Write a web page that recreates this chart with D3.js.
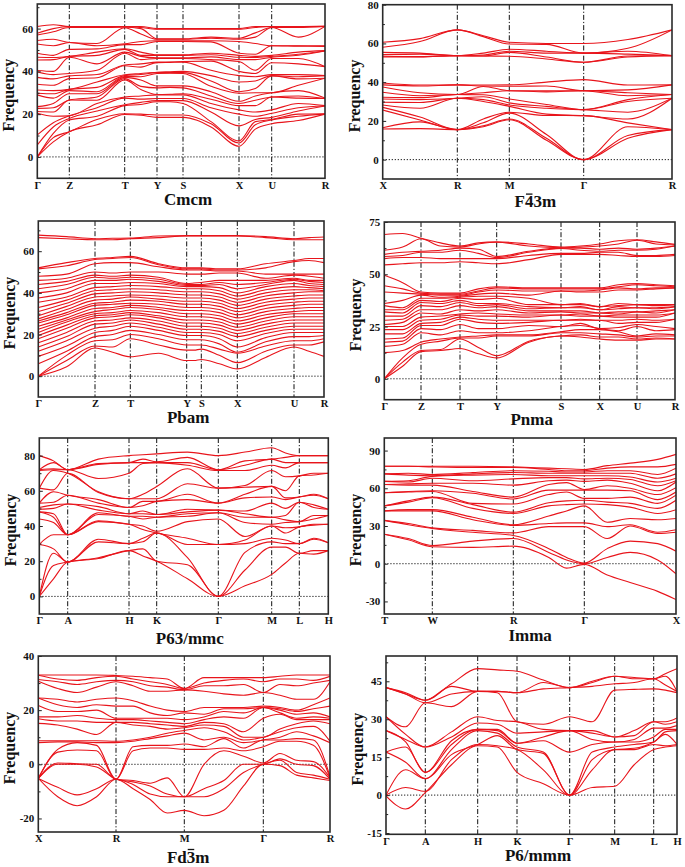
<!DOCTYPE html>
<html><head><meta charset="utf-8">
<script src="https://cdn.jsdelivr.net/npm/d3@7/dist/d3.min.js"></script>
<style>
body{margin:0;background:#fff;}
svg{display:block;}
text{font-family:"Liberation Serif","Times New Roman",serif;font-weight:bold;fill:#111;}
</style>
</head><body>
<svg id="chart" width="685" height="867"></svg>
<script>
// ---------------- DATA ----------------
// Panel 1: Cmcm
const cmcmTitle = "Cmcm";
const cmcmLabels = ["Γ","Z","T","Y","S","X","U","R"];
const cmcmKDist = [0,32,87.4,119.7,145.7,201.7,234.4,287.7];
const cmcmT = [0,0.5,1,1.5,2,2.5,3,3.5,4,4.5,5,5.5,6,6.5,7];
const cmcmYTicks = [0,20,40,60];
const cmcmYMinor = [10,30,50,70];
const cmcmYDomain = [-10,71.5];
const cmcmCols = [
 [0,0,0,5.6,10.3,20.4,21.2,22.7,23.5,29,29.8,31.3,34,37.2,39.7,40.4,45.3,46.6,48.5,52.8,54.4,57,57.8,61],
 [7,9,11,14,16,19,21,23,25,27.5,29.5,31,33.5,36.5,38.5,40,45.5,46.5,47.5,52,55,58.5,60,61.8],
 [11.8,11.8,17.3,18,19.2,19.2,26.6,26.6,29.5,31,31.6,31.6,36.6,37.9,39,46.6,47,47,50.3,53.5,53.5,60.5,61,61],
 [15,17.5,19,21.5,23,25,26.5,28,29.5,30.5,32.5,35,37,38.5,40.5,43.5,47.5,49,50.5,52,53,60.5,61,61],
 [19.8,20.2,24,24.4,27.5,28,36,36.6,37.2,37.6,38,38.4,42.6,43,48.5,49,50.3,50.6,52.5,52.9,60.4,60.6,61,61],
 [19.5,20,24.5,25.5,27,28.5,31.5,33,36,37.5,38.5,39,42,43.5,45.5,47,47.5,49,52.5,54,57.5,60,60.5,61],
 [18.5,19.6,25.8,26.3,27.3,29,29.2,32.3,33.2,39,39.4,39.6,44.1,44.3,46,46.3,47.5,47.7,54,54.3,55,55.2,59.7,60],
 [18.5,19.6,25.8,26.3,27.3,29,29.3,32.5,33.2,39.2,39.4,39.8,44.2,44.4,46,46.3,47.5,47.7,54,54.3,55,55.2,59.7,60],
 [18.5,19.6,25,26.3,27.3,29,29.5,32.3,33.2,39,39.4,40,44.3,44.6,46,46.3,47.5,47.7,54,54.3,55,55.2,59.7,60],
 [14,15.5,16.5,21,23,25,27,28.5,30.5,33,35.5,38,40.5,44.8,45.5,46.8,47.8,48.5,53.8,54.3,55.5,56,59.7,60],
 [5,6.5,7.5,14.5,20,22,24,25,26,29.8,30.5,35,38,40,44.6,45.5,46.6,47.5,48.5,54,55,55.5,59.7,60],
 [13,15,16.5,17.5,19,21,24,26.5,28.5,30,32,35.5,37.5,39,40.5,45.5,46.5,47,48,53,56,58,60.5,61],
 [15.5,17.3,17.5,18.5,20.4,22,28,28,30,30,37.9,38,38.5,44,46,46.6,47,47.5,52,52,60.5,60.5,61,61],
 [17,19,20,21.5,23,25,27.5,28.5,31,33.5,36.5,37.5,38.5,43.5,46,47.5,48,49,51.8,52,56,60.5,61,61],
 [20,20,20.2,23.8,23.8,24,27.3,27.3,27.5,36.8,36.8,38,38,42.2,42.2,49.5,49.5,49.7,51.7,51.9,61,61,61,61.2]
];

// Panel 2: F-43m
const f43mTitle = "F43m";
const f43mLabels = ["X","R","M","Γ","R"];
const f43mKDist = [0,74.6,126.6,201,289.3];
const f43mT = [0,0.5,1,1.5,2,2.5,3,3.5,4];
const f43mYTicks = [0,20,40,60,80];
const f43mYMinor = [10,30,50,70];
const f43mYDomain = [-10,80];
const f43mCols = [
 [15.8,16.5,25.6,27,28.2,29.6,31.3,32.2,34.8,37.5,38.6,39.6,53,53.4,54.2,55.4,58,60.6],
 [16,19.5,20.5,22,26.5,29.5,31,32,33,34.5,38,38.5,53,53.2,54.5,55,61,62.5],
 [15.5,15.5,15.5,15.5,31.7,31.7,31.7,33.6,33.6,33.6,38.6,38.6,53.7,53.7,53.7,53.7,67,67],
 [17,17.5,19,21,30,31,32.5,33.5,34.5,37.8,38,38.5,53.5,53.5,54,55,63.5,64],
 [20.6,21,24,24.5,27.5,28.2,29.3,31.3,35.6,35.6,37.9,38.6,53.4,55.4,56,57,59.7,60.6],
 [10,11,13,22.8,23.5,26.5,27.5,28.5,35,35.5,38,40,52,53,55,56,59.5,60],
 [0,0,0,22.7,22.7,25.8,25.8,25.8,35.6,35.6,35.6,41.3,50.3,50.3,55,55,55,60],
 [11,12.5,17,19,21,24.5,30,31,33,34.5,36,38.5,53,53.5,54.5,56,57.5,62],
 [15.5,15.5,15.5,15.5,31.7,31.7,31.7,33.6,33.6,33.6,38.6,38.6,53.7,53.7,53.7,53.7,67,67]
];

// Panel 3: Pbam
const pbamTitle = "Pbam";
const pbamLabels = ["Γ","Z","T","Y","S","X","U","R"];
const pbamKDist = [0,56.7,92,148.4,163,199,255.7,285.7];
const pbamT = [0,0.5,1,1.5,2,2.5,3,3.5,4,4.5,5,5.5,6,6.5,7];
const pbamYTicks = [0,20,40,60];
const pbamYMinor = [10,30,50,70];
const pbamYDomain = [-10,74.5];
const pbamCols = [
 [0,0,0,6,9.5,12,14,16,18,19.5,21,22.5,24,25.5,26.5,27.5,29,31,33,35.5,37.5,40,42,44,46,48,51.5,52,66.5,67.7],
 [4.5,7.5,10,12,14.5,17,19,21,23,24.5,26,27,28,29.5,30.5,32,33.5,35,36.5,38,40,42,44,45.5,47,49,53,54.5,66,67],
 [13.5,14.5,17,19,21,23,25,26.5,28,29,30,31,32.5,34,35,36.5,38,39.5,41,42.5,44.5,46,47.5,48.5,50,54,56,56.5,65.5,66],
 [11.5,14,17.5,20,22,24,25.5,27,28.5,29.5,30.5,32,33,34.5,35.5,37,38.5,40,41.5,43,44.5,46,47,48,49.5,54.5,56.5,57,65.5,66.2],
 [9.3,18,20,22,24,25.5,27,28,29.5,30.5,31.5,33,34,35,36.5,38,39,40.5,42,43.5,45,46.5,47.5,48.5,50,54.5,57,57.5,66,66.3],
 [11,15,18,20,22,23.5,25,26.5,28,29,30.5,32,33,34.5,36,37,38.5,40,41.5,43,44.5,45.5,46.5,47.5,50,52.5,53.5,54,66.5,67.3],
 [7.5,12.5,15,17.5,19.5,21,22.5,24,25.5,27,28.5,30,31.5,33,34.5,36,37.5,39,40.5,42,43,43.5,44,44.5,49,51,51.5,52,67.3,67.5],
 [7.5,12.5,15,17.5,19.5,21,22.5,24,25.5,27,28.5,30,31.5,33,34.5,36,37.5,39,40.5,42,43,43.5,44,44.7,49,51,51.5,52,67.3,67.5],
 [8,13,15,17.5,19.5,21,22.5,24,25.5,27,28.5,30,31.5,33,34.5,36,37.5,39,40.5,42,43,43.5,44,45,49,51,51.5,52,67.3,67.5],
 [6,10,13,15.5,18,20,21.5,23,24.5,26,27.5,29,30.5,32,33.5,35,36.5,38,39.5,41,42.5,44,45,46,49.5,50.5,51,51.5,67.3,67.5],
 [3.5,6.5,11,11.5,14,17,19,20.5,22,23.5,25,26.5,28,29.5,31,32.5,34,35.5,37,38.5,40,42,44,46,49.5,50.5,51,51.5,67.3,67.5],
 [9,12,14.5,16.5,18.5,20.5,22,23.5,25,26.5,28,29.5,31,32.5,34,35.5,37,38.5,40,41.5,43,44,45,46,47,49,52,54,66.5,67],
 [14,15,17,19,21,22.5,24,25.5,27,28.5,30,31,32.5,34,35.5,37,38.5,40,41.5,43,44.5,46,46.5,47,48.5,49,55,55.5,65.5,66],
 [12,15,17,19,21,22.5,24,25.5,27,28.5,30,31.5,33,34.5,36,37.5,39,40.5,41.5,42.5,43.5,44.5,45.5,46,48,49,55.5,56.5,65.5,66.5],
 [9.5,16.5,18,19.5,21,22.5,24,25.5,27,28.5,30,31.5,33,34.5,36,37.5,39,40.5,41,42,43,44,45,46,47,49,54.5,56.5,65.5,66.8]
];

// Panel 4: Pnma
const pnmaTitle = "Pnma";
const pnmaLabels = ["Γ","Z","T","Y","S","X","U","R"];
const pnmaKDist = [0,36.7,75.7,112.4,176.7,215.4,252.7,290.7];
const pnmaT = [0,0.5,1,1.5,2,2.5,3,3.5,4,4.5,5,5.5,6,6.5,7];
const pnmaYTicks = [0,25,50,75];
const pnmaYMinor = [12.5,37.5,62.5];
const pnmaYDomain = [-10,75];
const pnmaCols = [
 [0,0,0,12.5,15.5,17.5,19,21.5,23.5,25,26,28,30,32,33,35,36,41.5,44.5,49.5,54.5,57.5,58.5,59.5,61.5,69],
 [6,8,10,13.5,16.5,18,19.5,21.5,23.5,25,27,28.5,30,31.5,33,34,37.5,41,43,46,55,58,59,60.5,63,69.5],
 [13,13.5,16.5,17.5,22,24,25.5,26.5,28,29.5,31.5,33,35,36.5,37.5,38.5,40,40.5,41,41.5,55.5,58,60.5,61,67,67.2],
 [13.5,14,18,19,21,23.5,25.5,27,28.5,30,31,33,34.5,36,37,38.5,39,40,40.5,41,55.5,57.5,60.5,61.5,63.5,65],
 [14.5,19,19.5,20,23,26,28.5,29.5,30.5,31,33,35,36.5,37.5,38.5,39,39.5,40,40.5,41,56,57.5,61.5,62.5,63,63.5],
 [12,15,19.5,20.5,22,24,27,28.5,30,31.5,32.5,34,35,36,38,39.5,40.5,41.5,42,43,55.5,57.5,60,62,64.5,65],
 [10,11,20.5,21,22,24,26.5,28,30,31,33,34.5,35.5,36,38.5,39.5,41,42.5,43.5,44,55,57.5,58,58.5,65.3,65.5],
 [17.5,18,20.5,21,23,25.5,27,28,29.5,30.5,31.5,32.5,33.5,34.5,35.5,38.5,40,42,43,43.5,57,59,60.5,61,63.5,64.5],
 [20.5,20.5,22,22.5,25,25,28,28,30.5,30.5,32,32.5,34,34,35.5,35.5,42,42,43,43.5,59.5,60,62.3,62.5,62.7,63],
 [20,21,22,23.5,25.5,26.5,28,28.5,30,31,31.5,32.5,34,34.5,35.5,36,41.5,42,43,43.5,59.5,60,61.5,62.5,63,63.5],
 [19,20,21.5,23.5,24,24,28,28,30,30,31.5,31.5,33,33,34.5,34.5,41.5,42.5,43,43.5,59.5,60.5,61,62,63.5,64.5],
 [18.5,20,21,22.5,23,24.5,26.5,28,29.5,30.5,31,32,33.5,34.5,35,36,42.5,43.5,44,45,59,60.5,61.5,62.5,64.5,66],
 [18.5,19,20,20.5,25,26,27,28.5,29.5,30.5,32,32,34,34,35.5,35.5,42.5,43,45,45.5,58.5,59,61.5,62,66.3,66.5],
 [19,19.5,20.5,21.5,23,25,27,28,29.5,30.5,31.5,32.5,33.5,34,35,35.5,43,43.5,44.5,45,58.5,59,62,62.5,64.5,65.5],
 [19,19,20.5,21,23.5,24,28.5,28.5,31.5,31.5,33,33,34.5,34.5,35.5,35.5,43.5,43.5,44,44.5,59,59.5,63.5,63.5,64,64.3]
];

// Panel 5: P63/mmc
const p63Title = "P63/mmc";
const p63Labels = ["Γ","A","H","K","Γ","M","L","H"];
const p63KDist = [0,28.4,89.7,117.4,179,232.4,260,289];
const p63T = [0,0.5,1,1.5,2,2.5,3,3.5,4,4.5,5,5.5,6,6.5,7];
const p63YTicks = [0,20,40,60,80];
const p63YMinor = [10,30,50,70];
const p63YDomain = [-10,90];
const p63Cols = [
 [0,0,0,29.5,29.5,44,48,48,49.5,50.5,53,53,61.5,61.5,71.5,72,72,80],
 [10,17.5,24.5,27,35,42,45,47,50,52,53.5,59.5,60.5,71.5,72,72.5,76,77],
 [19.5,19.5,19.5,19.5,35,35,35,35,52.5,52.5,57.5,57.5,70,70,72,72,72,72],
 [21.5,22,31,32.5,42.5,43,46.5,47.5,49,51,53,55,59,59.5,67,75,75.5,78],
 [26,26,30,30,41,41,45.5,45.5,47,47,50.5,50.5,55.5,55.5,70,76,76,80],
 [23,27,31,33,38,40,44,45.5,47,48.5,51.5,54,55.5,58,75.5,76,78,80.5],
 [20,20,36,36,36,37,45,45,46.5,46.5,54,54,55.5,62.5,76,76,76.5,81],
 [10,18,22,29.5,33,42.5,45.5,47,48,49.5,55,58,64,72.5,74.5,76,79,82],
 [0,0,0,29.5,29.5,44,47.5,47.5,49,49,53,53,61.5,61.5,71.5,72,72,80],
 [6,15,25,30,32,34,42,45,47,48.5,56,58,62,63,71.5,74.5,77,82],
 [12.5,28,31,33,40,40,41,45,45,53,56.5,62.5,62.5,71.5,74.5,78,78,84.5],
 [19,28,30,32,36,39,42,43.5,46,50,55,56,60,68,73,76,79,81.5],
 [24.5,24.5,30,30,39.5,39.5,42.5,42.5,53.5,53.5,56.5,56.5,68.5,68.5,76,76,80,80],
 [24,26,32.5,33,40.5,41,44,46,50.5,52,57.5,58,69,70,76,76,80,80],
 [26,26,30.5,30.5,41,41,46,46,49.5,49.5,55.5,55.5,70,70,76,76,80,80]
];

// Panel 6: Imma
const immaTitle = "Imma";
const immaLabels = ["T","W","R","Γ","X"];
const immaKDist = [0,48,129,200,291.7];
const immaT = [0,0.5,1,1.5,2,2.5,2.75,3,3.25,3.5,3.8,4];
const immaYTicks = [-30,0,30,60,90];
const immaYMinor = [-15,15,45,75];
const immaYDomain = [-40,100];
const immaCols = [
 [23.5,23.5,34.5,34.5,42,42,46,46,56.5,56.5,63,63,65.5,65.5,71.5,71.5,77.5,77.5],
 [19,20,31,32,42,43,49,50,57,57.5,62.5,63.5,65,66,70.5,72,77.5,77.5],
 [13.5,14.5,28,28.5,42,43,52.5,53,57.5,58,62.5,64,68,69.5,70,71,77,77.5],
 [13,18,25,26.5,35,37,44,47,48,56,57.5,64,66,70.5,71.5,72.5,76.5,77.5],
 [14,20,22.5,24.5,30.5,31,40,41,47.5,51.5,53,62.5,67.5,71,72.5,74,76.5,77],
 [5,9,12,29.5,32,38,46,48.5,55,58.5,63,66,68.5,70,72,73.5,75,76],
 [-3.5,3,5,29.5,32.5,42,47,50,57,58.5,64.5,66.5,68.5,70,72,73,74,75.5],
 [-0.5,0,0.5,29.5,32.5,46,47.5,50.5,52,58.5,59,65.5,67.5,70,72,73,74,75],
 [-9,5,12,20,29.5,33,47,49,52,58.5,62,66.5,68,70,72,74,76,78],
 [-15,9,18,30,31,36,45,48,53,58,60,64,67,69,72,74,77,80],
 [-22,3,16,24,25,35,40,44,48,51,55,58,62,65,68,71,77,83],
 [-28.5,-8,10,25,27,36,43,50.5,54.5,57,60.5,65,66,68,71.5,76,79,87]
];

// Panel 7: Fd-3m
const fd3mTitle = "Fd3m";
const fd3mLabels = ["X","R","M","Γ","R"];
const fd3mKDist = [0,77.7,146,225,291.7];
const fd3mT = [0,0.25,0.5,0.75,1,1.25,1.5,1.75,2,2.25,2.5,2.75,3,3.25,3.5,3.75,4];
const fd3mYTicks = [-20,0,20,40];
const fd3mYMinor = [-10,10,30];
const fd3mYDomain = [-25,40];
const fd3mCols = [
 [-5.2,-5.2,-5.2,-5.2,-5.2,-5.2,8,8.7,15.1,16.8,17.5,21.7,24.5,24.5,30.7,31.3,32.9,33],
 [-12,-8.5,0,0.5,4.5,5.5,8.3,8.7,14.5,16,17.5,19.5,22,24,28,30.5,31.5,33],
 [-15.3,-11.3,0,0.2,5.3,8,8.3,8.7,13,16,18,19.5,21,23,26.5,29.5,31,33],
 [-12,-9,-1,0,5,7,8,8.7,11,15.5,17,20,22,24,28.5,30.5,32,33],
 [-5.5,-5.5,-5.5,-5.5,-5.5,-5.5,8,8.5,15.5,15.5,16.5,17,21.5,24.5,30.5,31,32.5,32.8],
 [-9,-7.5,-6.5,-6,5,6.5,8.5,9,14.5,15.5,16.5,17,21.5,23.5,29,30.5,31.5,32.5],
 [-13,-11,-8,-7,6,7,9.5,10,14,15,16,17,19,21.5,27,29,30.5,32],
 [-18,-12,-11,-5,6,7,10.5,11.5,13,14.5,15.5,17,18,20,27,28.5,29.5,31.5],
 [-17,-12,-12,-12,5.5,7.5,11.5,12.5,13.5,14,15,16.5,19,19.5,27.5,27.5,28,28],
 [-19,-12,-9,0,5.5,6.5,9,13.5,14.5,15.5,16.5,17.5,18.5,21,27,29,30,32],
 [-17,-9,-6,5,6,9.5,10,12,14,15,17.5,19.5,20.5,21,26,29,31,32],
 [-8,-3,0,3,5,6,8,9,10,12,17,19,20.5,21,25.5,29.5,31.5,32],
 [0,0,0,0.5,6.5,9,9,10,10,17,21,21,21,21.5,26.5,26.5,30.5,32],
 [-0.5,1.5,2,4,8.5,9,10,12,13,18.5,19,20,20.5,21,25.5,29.5,31.5,32.5],
 [-4,-3,0,1.5,8.5,9.5,12,13.5,15,16.5,17,18.5,19.5,20,24,29,31.5,33],
 [-5,-4,-0.5,1,7,9,10.5,14,16,16.5,17.5,19,20.5,22,24,30,31,33],
 [-6,-5.5,-5.5,-5,-5,-4.5,8,8.5,15,16.5,17,17.5,21.5,24.5,30.5,31,32.5,33]
];

// Panel 8: P6/mmm
const p6Title = "P6/mmm";
const p6Labels = ["Γ","A","H","K","Γ","M","L","H"];
const p6KDist = [0,39.3,91.7,131,183.7,228.7,267.7,291];
const p6T = [0,0.5,1,1.5,2,2.5,3,3.5,4,4.5,5,5.5,6,6.5,7];
const p6YTicks = [-15,0,15,30,45];
const p6YMinor = [-7.5,7.5,22.5,37.5,52.5];
const p6YDomain = [-15.5,55];
const p6Cols = [
 [-0.3,0,0,17,17,25.5,25.5,31,31,42.5,42.5,42.5],
 [-5.5,3,10,13,19,21,22,24,27,40,40,40.5],
 [1,1.5,6.5,6.5,9,9,19,19,36.5,36.5,37.5,37.5],
 [12,14,16,18,20,21.5,23,25,35,40,43,44],
 [19.5,20,20,25.5,26,26,28.5,31,41,41,41,50],
 [19,19.5,23.5,24.5,25.5,26,28,29.5,40.5,41,41,49.5],
 [9,18,18,19,20.5,20.5,24.5,29,29,40.5,40.5,49],
 [4.5,10,16.5,17,21.5,23,25,26,28,42,44.5,45.5],
 [0,0,0,0,17,25.5,25.5,25.5,31,42.5,42.5,42.5],
 [3,10,14,17,20,22,24.5,25.5,29,43,44.5,45],
 [3.5,18,18,19,21,21,23,23,41.5,44,47,47],
 [12,18,18.5,20,21,22,23.5,25.5,41.8,44.5,46,46.5],
 [18,20,21,21,23,26.5,29,29,42,46,46,46],
 [19,19.5,24,25,26,26.5,28,29,41.5,43.5,47,48],
 [19.5,20,20,25.5,26,27.5,29,30.5,40.5,41,41,50]
];

// ---------------- LAYOUT ----------------
const panels = [
 {title:cmcmTitle, bar:-1, labels:cmcmLabels, kd:cmcmKDist, t:cmcmT, cols:cmcmCols, yt:cmcmYTicks, ym:cmcmYMinor, yd:cmcmYDomain, box:[37.3,4,325,178.3], tdx:7, tdy:26.7},
 {title:f43mTitle, bar:1, labels:f43mLabels, kd:f43mKDist, t:f43mT, cols:f43mCols, yt:f43mYTicks, ym:f43mYMinor, yd:f43mYDomain, box:[382.7,4.7,672,179], tdx:8, tdy:28.3},
 {title:pbamTitle, bar:-1, labels:pbamLabels, kd:pbamKDist, t:pbamT, cols:pbamCols, yt:pbamYTicks, ym:pbamYMinor, yd:pbamYDomain, box:[38.3,221,324,397], tdx:7, tdy:26},
 {title:pnmaTitle, bar:-1, labels:pnmaLabels, kd:pnmaKDist, t:pnmaT, cols:pnmaCols, yt:pnmaYTicks, ym:pnmaYMinor, yd:pnmaYDomain, box:[384.3,222,675,399.7], tdx:2, tdy:25.6},
 {title:p63Title, bar:-1, labels:p63Labels, kd:p63KDist, t:p63T, cols:p63Cols, yt:p63YTicks, ym:p63YMinor, yd:p63YDomain, box:[39.3,438,328.3,614], tdx:6, tdy:30},
 {title:immaTitle, bar:-1, labels:immaLabels, kd:immaKDist, t:immaT, cols:immaCols, yt:immaYTicks, ym:immaYMinor, yd:immaYDomain, box:[384.3,438,676,614], tdx:0, tdy:26.7},
 {title:fd3mTitle, bar:2, labels:fd3mLabels, kd:fd3mKDist, t:fd3mT, cols:fd3mCols, yt:fd3mYTicks, ym:fd3mYMinor, yd:fd3mYDomain, box:[38.3,656,330,832], tdx:4, tdy:30.7},
 {title:p6Title, bar:-1, labels:p6Labels, kd:p6KDist, t:p6T, cols:p6Cols, yt:p6YTicks, ym:p6YMinor, yd:p6YDomain, box:[386,656,677,834.3], tdx:6.5, tdy:27}
];

const RED = "#e8141b";
const svg = d3.select("#chart");
svg.append("rect").attr("width",685).attr("height",867).attr("fill","#fff");

panels.forEach((p, pi) => {
  const [L,T,R,B] = p.box;
  const x = d3.scaleLinear().domain([0, p.kd[p.kd.length-1]]).range([L,R]);
  const y = d3.scaleLinear().domain(p.yd).range([B,T]);
  const g = svg.append("g");

  const clipId = "clip" + pi;
  g.append("clipPath").attr("id", clipId).append("rect")
    .attr("x", L).attr("y", T).attr("width", R-L).attr("height", B-T);

  const plot = g.append("g").attr("clip-path", `url(#${clipId})`);

  // zero line
  plot.append("line")
    .attr("x1", L).attr("x2", R).attr("y1", y(0)).attr("y2", y(0))
    .attr("stroke", "#222").attr("stroke-width", 1).attr("stroke-dasharray", "1.3,1.7");

  // high-symmetry vertical lines
  plot.selectAll("line.kv").data(p.kd.slice(1,-1)).enter().append("line")
    .attr("class","kv")
    .attr("x1", d => x(d)).attr("x2", d => x(d))
    .attr("y1", T).attr("y2", B)
    .attr("stroke", "#111").attr("stroke-width", 1)
    .attr("stroke-dasharray", "5,2,1.2,2");

  // bands
  const tToD = t => {
    const i = Math.min(Math.floor(t), p.kd.length-2);
    const f = t - i;
    return p.kd[i] + f*(p.kd[i+1]-p.kd[i]);
  };
  const nb = p.cols[0].length;
  const bands = d3.range(nb).map(b => p.t.map((t,j) => [tToD(t), p.cols[j][b]]));
  const line = d3.line().x(d => x(d[0])).y(d => y(d[1])).curve(d3.curveMonotoneX);
  plot.selectAll("path.band").data(bands).enter().append("path")
    .attr("class","band")
    .attr("d", line)
    .attr("fill","none").attr("stroke", RED).attr("stroke-width", 1.1);

  // y axis (ticks inside)
  const yAxis = d3.axisLeft(y).tickValues(p.yt).tickSize(-3.5).tickPadding(4)
    .tickFormat(d => String(d));
  const ya = g.append("g").attr("transform", `translate(${L},0)`).call(yAxis);
  ya.select(".domain").remove();
  ya.selectAll("line").attr("stroke","#222").attr("stroke-width",1);
  ya.selectAll("text").style("font-size","11px").attr("fill","#111");
  const yMin = d3.axisLeft(y).tickValues(p.ym).tickSize(-2.2).tickFormat("");
  const ym = g.append("g").attr("transform", `translate(${L},0)`).call(yMin);
  ym.select(".domain").remove();
  ym.selectAll("line").attr("stroke","#222").attr("stroke-width",1);

  // x axis labels
  const xAxis = d3.axisBottom(x).tickValues(p.kd).tickSize(0).tickPadding(3)
    .tickFormat((d,i) => p.labels[i]);
  const xa = g.append("g").attr("transform", `translate(0,${B})`).call(xAxis);
  xa.select(".domain").remove();
  xa.selectAll("text").style("font-size","10.5px").attr("fill","#111");

  // frame
  g.append("rect").attr("x",L).attr("y",T).attr("width",R-L).attr("height",B-T)
    .attr("fill","none").attr("stroke","#2a2a2a").attr("stroke-width",1.6);

  // y title
  const cy = (T+B)/2 + 4;
  g.append("text").attr("transform", `translate(${L-23},${cy}) rotate(-90)`)
    .attr("text-anchor","middle").style("font-size","16px").text("Frequency");

  // panel title
  const tx = (L+R)/2 + p.tdx, ty = B + p.tdy;
  const tt = g.append("text").attr("x", tx).attr("y", ty).attr("text-anchor","middle")
    .style("font-size","17px").text(p.title);
  if (p.bar >= 0) {
    const ext = tt.node().getExtentOfChar(p.bar);
    g.append("line").attr("x1", ext.x + 1).attr("x2", ext.x + ext.width - 1)
      .attr("y1", ty - 13.2).attr("y2", ty - 13.2)
      .attr("stroke","#111").attr("stroke-width",1.3);
  }
});
</script>
</body></html>
